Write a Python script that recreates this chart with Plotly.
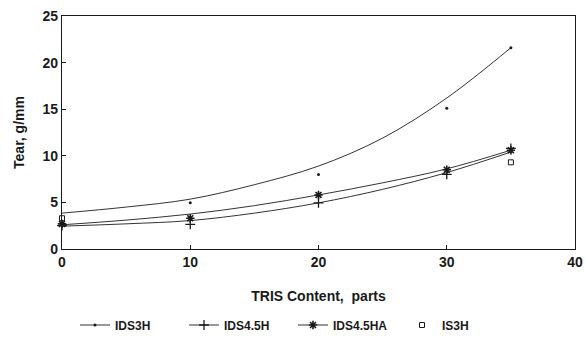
import plotly.graph_objects as go

# Measured points
x_ids3h = [10, 20, 30, 35]
y_ids3h = [4.95, 8.0, 15.1, 21.6]
x_ids45h = [0, 10, 20, 30, 35]
y_ids45h = [2.5, 2.65, 4.95, 8.0, 10.8]
x_ids45ha = [0, 10, 20, 30, 35]
y_ids45ha = [2.7, 3.3, 5.8, 8.5, 10.6]
x_is3h = [0, 35]
y_is3h = [3.3, 9.3]

# Fitted curves
fit_x = [0, 5, 10, 15, 20, 25, 30, 35]
fit_ids3h = [3.85, 4.5, 5.35, 6.9, 8.9, 11.9, 16.2, 21.6]
fit_ids45h = [2.45, 2.7, 3.05, 3.85, 4.95, 6.4, 8.2, 10.4]
fit_ids45ha = [2.6, 3.1, 3.75, 4.65, 5.8, 7.1, 8.6, 10.6]

names = ["IDS3H", "IDS4.5H", "IDS4.5HA", "IS3H"]
C = "#1a1a1a"
FONT = "Liberation Sans"

fig = go.Figure()
line = dict(color="#333333", width=1)
for fy in (fit_ids3h, fit_ids45h, fit_ids45ha):
    fig.add_trace(go.Scatter(x=fit_x, y=fy, mode="lines", line=dict(shape="spline", **line),
                             showlegend=False, hoverinfo="skip"))

mk = [
    dict(symbol="circle", size=3, color=C),
    dict(symbol="cross-thin", size=7, color=C, line=dict(width=1.3, color=C)),
    dict(symbol="asterisk", size=7, color=C, line=dict(width=1.6, color=C)),
    dict(symbol="square-open", size=5, color=C, line=dict(width=1, color=C)),
]
data = [(x_ids3h, y_ids3h), (x_ids45h, y_ids45h), (x_ids45ha, y_ids45ha), (x_is3h, y_is3h)]
for (xs, ys), m, n in zip(data, mk, names):
    fig.add_trace(go.Scatter(x=xs, y=ys, mode="markers", marker=m, showlegend=False, cliponaxis=False))
    fig.add_trace(go.Scatter(x=[None], y=[None], name=n,
                             mode="markers" if n == "IS3H" else "lines+markers",
                             marker=m, line=line))

bold = dict(family=FONT, size=14, color=C, weight="bold")
axis_common = dict(showline=True, linecolor=C, linewidth=1.2, mirror=True, ticks="inside",
                   ticklen=4, tickcolor=C, showgrid=False, zeroline=False,
                   tickfont=bold, automargin=False)
fig.update_layout(
    width=586, height=339,
    margin=dict(l=62, r=11, t=16, b=90),
    plot_bgcolor="white", paper_bgcolor="white",
    font=dict(family=FONT, color=C),
    xaxis=dict(range=[0, 40], dtick=10, title=dict(text="TRIS Content,  parts", standoff=22,
               font=bold), **axis_common),
    yaxis=dict(range=[0, 25], dtick=5, title=dict(text="Tear, g/mm", standoff=14,
               font=bold), **axis_common),
    legend=dict(orientation="h", x=0.5, xanchor="center", xref="container",
                y=14 / 339, yanchor="middle", yref="container",
                font=dict(family=FONT, size=12, color=C, weight="bold"),
                itemwidth=30, tracegroupgap=0, entrywidth=64, entrywidthmode="pixels"),
)
fig.write_html("out.html")
